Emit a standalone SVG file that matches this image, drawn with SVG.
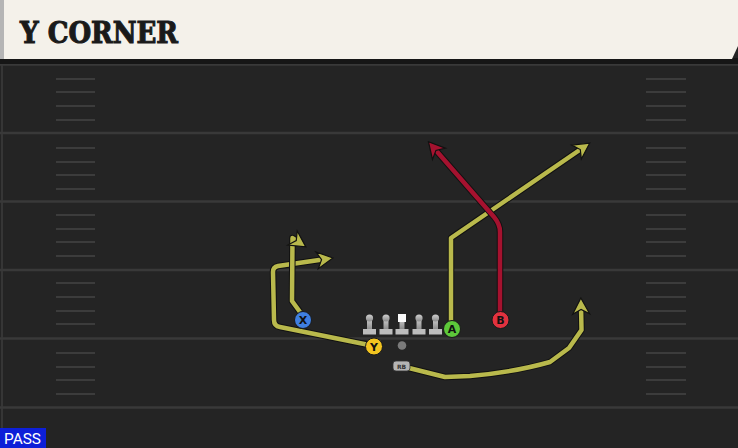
<svg xmlns="http://www.w3.org/2000/svg" width="738" height="448" viewBox="0 0 738 448">
<style>
.major{stroke:#393939;stroke-width:2.5}
.hash{stroke:#3c3c3c;stroke-width:2}
.out{fill:none;stroke:#111;stroke-width:6.5;stroke-linejoin:round}
.yel{fill:none;stroke:#b9b94c;stroke-width:4.5;stroke-linejoin:round}
.red{fill:none;stroke:#a5122f;stroke-width:4.5;stroke-linejoin:round}
.lbl{font-family:"DejaVu Sans","Liberation Sans",sans-serif;font-weight:bold;font-size:11px;fill:#111;text-anchor:middle}
.pc{stroke:#1a1a1a;stroke-width:1}
</style>
<defs>
<marker id="ay" markerUnits="userSpaceOnUse" viewBox="-20 -11 22 22" markerWidth="22" markerHeight="22" refX="-6" refY="0" orient="auto">
<path d="M1,0 L-15,-8.5 L-10.5,0 L-15,8.5 Z" fill="#b9b94c" stroke="#111" stroke-width="1.2" stroke-linejoin="miter"/>
</marker>
<marker id="ar" markerUnits="userSpaceOnUse" viewBox="-20 -11 22 22" markerWidth="22" markerHeight="22" refX="-6" refY="0" orient="auto">
<path d="M1,0 L-15,-8.5 L-10.5,0 L-15,8.5 Z" fill="#a5122f" stroke="#111" stroke-width="1.2" stroke-linejoin="miter"/>
</marker>
<linearGradient id="lg" x1="0" y1="0" x2="0" y2="1">
<stop offset="0" stop-color="#d0d0d0"/><stop offset="1" stop-color="#8a8a8a"/>
</linearGradient>
<g id="lineman">
<rect x="-2.5" y="-11" width="5" height="12" fill="url(#lg)"/>
<circle cx="0" cy="-11" r="3.6" fill="url(#lg)"/>
<rect x="-6.5" y="0" width="13" height="5.5" fill="#bdbdbd"/>
</g>
</defs>

<!-- field -->
<rect x="0" y="0" width="738" height="448" fill="#242424"/>
<line x1="2" y1="60" x2="2" y2="448" stroke="#363636" stroke-width="2"/>
<g id="yardlines">
<line class="major" x1="0" y1="64.5" x2="738" y2="64.5"/>
<line class="major" x1="0" y1="133" x2="738" y2="133"/>
<line class="major" x1="0" y1="201.5" x2="738" y2="201.5"/>
<line class="major" x1="0" y1="270" x2="738" y2="270"/>
<line class="major" x1="0" y1="338.5" x2="738" y2="338.5"/>
<line class="major" x1="0" y1="407.5" x2="738" y2="407.5"/>
</g>
<g id="hashes">
<path class="hash" d="M56,79H95M56,92H95M56,106H95M56,120H95M56,148H95M56,162H95M56,175H95M56,189H95M56,215H95M56,229H95M56,242H95M56,256H95M56,283H95M56,297H95M56,311H95M56,324H95M56,353H95M56,367H95M56,380H95M56,394H95"/>
<path class="hash" d="M646,79H686M646,92H686M646,106H686M646,120H686M646,148H686M646,162H686M646,175H686M646,189H686M646,215H686M646,229H686M646,242H686M646,256H686M646,283H686M646,297H686M646,311H686M646,324H686M646,353H686M646,367H686M646,380H686M646,394H686"/>
</g>

<!-- header -->
<rect x="0" y="58" width="738" height="6" fill="#161616"/>
<polygon points="0,0 738,0 738,46 732,59 0,59" fill="#f4f1ea"/>
<rect x="0" y="0" width="4" height="59" fill="#b5b5b5"/>
<text x="20" y="43" font-family="'DejaVu Serif Condensed','DejaVu Serif',serif" font-weight="bold" font-size="29" fill="#1a1a1a" stroke="#1a1a1a" stroke-width="1" textLength="158" lengthAdjust="spacingAndGlyphs">Y CORNER</text>

<!-- connectors -->
<g id="routes">
<path class="out" d="M374,346 L280,327 Q274,326 274,320 L273,272 Q273,267 278,266 L326,259"/>
<path class="yel" d="M374,346 L280,327 Q274,326 274,320 L273,272 Q273,267 278,266 L326,259" marker-end="url(#ay)"/>
<path class="out" d="M300,312 L292,301 L292.5,238 L300,243"/>
<path class="yel" d="M300,312 L292,301 L292.5,238 L300,243" marker-end="url(#ay)"/>
<path class="out" d="M451,322 L451,238 L584,147"/>
<path class="yel" d="M451,322 L451,238 L584,147" marker-end="url(#ay)"/>
<path class="out" d="M500,312 L500,232 Q500,224 494,217 L433,147"/>
<path class="red" d="M500,312 L500,232 Q500,224 494,217 L433,147" marker-end="url(#ar)"/>
<path class="out" d="M409,368 L445,377 L470,376 Q515,372 550,362 L569,348 L581.5,330 L581,305"/>
<path class="yel" d="M409,368 L445,377 L470,376 Q515,372 550,362 L569,348 L581.5,330 L581,305" marker-end="url(#ay)"/>
</g>

<!-- line -->
<g id="ol">
<use href="#lineman" x="369.5" y="329"/>
<use href="#lineman" x="386" y="329"/>
<g id="center">
<rect x="399.5" y="318" width="5" height="11" fill="url(#lg)"/>
<rect x="398" y="314" width="8" height="8" fill="#fafafa"/>
<rect x="395.5" y="329" width="13" height="5.5" fill="#bdbdbd"/>
</g>
<use href="#lineman" x="419" y="329"/>
<use href="#lineman" x="435.5" y="329"/>
</g>
<g id="ball"><circle cx="402" cy="345.5" r="4.3" fill="#7a7a7a"/></g>

<g id="X"><circle class="pc" cx="303" cy="320" r="8.5" fill="#3f7fe0"/><text class="lbl" x="303" y="324">X</text></g>
<g id="Y"><circle class="pc" cx="374" cy="346.5" r="8.5" fill="#f2c420"/><text class="lbl" x="374" y="350.5">Y</text></g>
<g id="A"><circle class="pc" cx="452" cy="329" r="8.5" fill="#5dc83a"/><text class="lbl" x="452" y="333">A</text></g>
<g id="B"><circle class="pc" cx="500.5" cy="320" r="8.5" fill="#e2323f"/><text class="lbl" x="500.5" y="324">B</text></g>
<g id="RB"><rect x="393" y="361" width="17" height="10" rx="3" fill="#b4b4b4" stroke="#333" stroke-width="0.8"/><text x="401.5" y="369" font-family="'DejaVu Sans',sans-serif" font-size="6" font-weight="bold" fill="#333" text-anchor="middle">RB</text></g>

<!-- badge -->
<rect x="0" y="428" width="46" height="20" fill="#0d1fd8"/>
<text x="4" y="444" font-family="Roboto,'Liberation Sans',sans-serif" font-size="15" fill="#ffffff" textLength="37" lengthAdjust="spacingAndGlyphs">PASS</text>
</svg>
